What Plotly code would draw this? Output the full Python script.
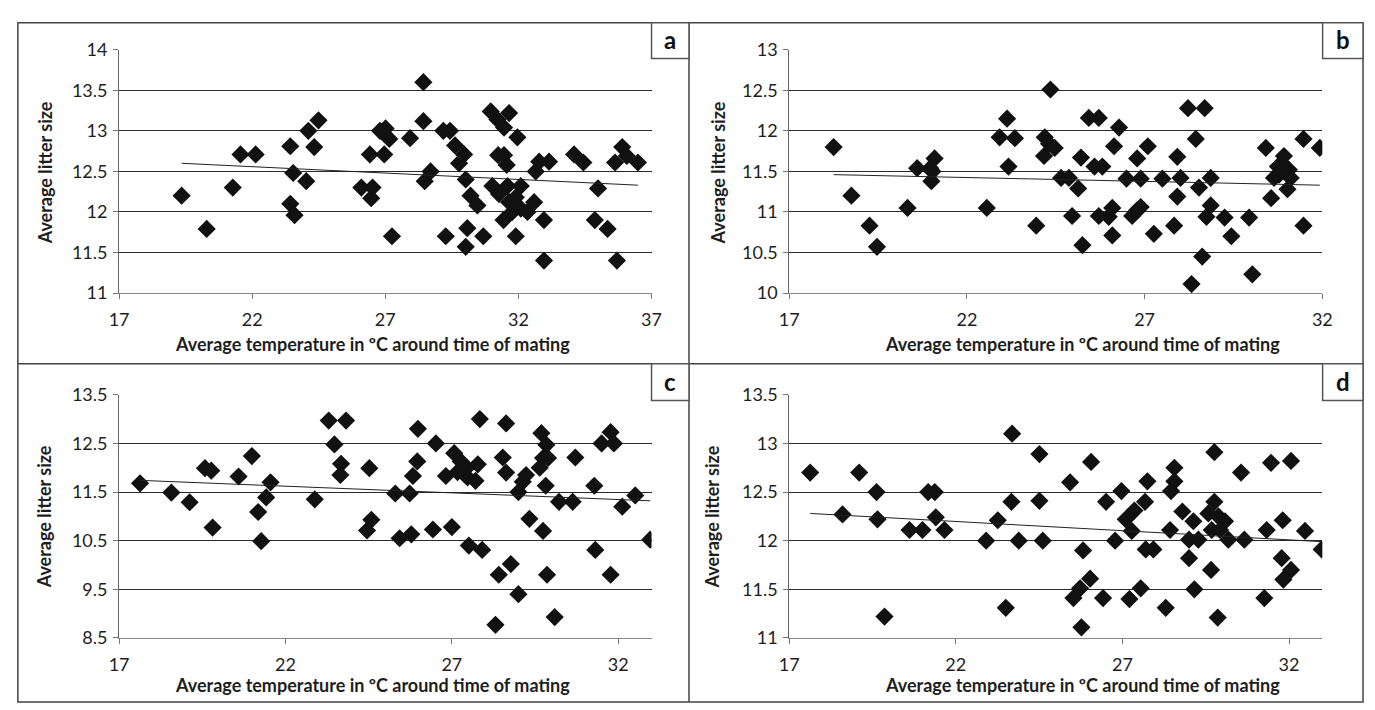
import plotly.graph_objects as go

# ---------------- data ----------------
a_temp = [19.35, 20.29, 21.27, 21.56, 22.13, 23.43, 23.54, 23.43, 23.59, 24.03, 24.11, 24.33, 24.49, 26.10, 26.52,
          26.47, 26.42, 26.80, 27.01, 26.96, 27.15, 27.25, 27.93, 28.43, 28.43, 28.48, 28.70, 29.18, 29.43, 29.27,
          29.62, 29.77, 29.96, 30.02, 30.02, 30.08, 30.20, 30.46, 30.68, 30.96, 31.21, 31.65, 31.46, 31.96, 31.24,
          31.46, 31.56, 31.02, 31.27, 31.59, 32.09, 31.65, 31.90, 32.09, 32.34, 32.59, 31.77, 31.44, 31.90, 32.96,
          32.96, 32.65, 32.78, 33.15, 34.09, 34.44, 34.99, 34.87, 35.35, 35.70, 35.63, 35.90, 36.07, 36.49]
a_litter = [12.20, 11.79, 12.30, 12.71, 12.71, 12.81, 12.48, 12.10, 11.96, 12.38, 13.00, 12.80, 13.13, 12.30, 12.30,
            12.17, 12.71, 13.00, 13.03, 12.71, 12.90, 11.70, 12.91, 13.60, 13.12, 12.38, 12.50, 13.00, 13.00, 11.70,
            12.82, 12.60, 12.71, 12.40, 11.57, 11.80, 12.20, 12.08, 11.70, 13.24, 13.14, 13.22, 13.04, 12.92, 12.70,
            12.70, 12.58, 12.32, 12.22, 12.32, 12.32, 12.12, 12.18, 12.04, 12.00, 12.12, 12.00, 11.90, 11.70, 11.90,
            11.40, 12.50, 12.62, 12.62, 12.71, 12.61, 12.29, 11.90, 11.79, 11.40, 12.61, 12.80, 12.69, 12.61]
a_trend = [12.60, 12.33]

b_temp = [18.25, 18.75, 19.26, 19.47, 20.33, 20.60, 20.97, 21.09, 21.03, 21.00, 22.56, 22.92, 23.13, 23.35, 23.17,
          23.95, 24.35, 24.19, 24.31, 24.47, 24.17, 24.65, 24.87, 25.13, 25.21, 24.96, 25.25, 25.43, 25.71, 26.28,
          26.14, 25.59, 25.81, 25.71, 25.99, 26.09, 26.09, 26.49, 26.89, 26.79, 27.09, 26.65, 26.79, 26.89, 27.26,
          27.50, 27.92, 28.01, 27.92, 27.83, 28.22, 28.69, 28.44, 28.53, 28.86, 28.86, 28.74, 29.25, 29.44, 28.62,
          28.32, 29.94, 30.03, 30.41, 30.56, 30.75, 30.92, 30.78, 31.06, 30.64, 31.11, 31.02, 30.87, 31.47, 31.93, 31.47]
b_litter = [11.80, 11.20, 10.83, 10.57, 11.05, 11.54, 11.54, 11.66, 11.50, 11.38, 11.05, 11.92, 12.15, 11.91, 11.56,
            10.83, 12.51, 11.92, 11.84, 11.79, 11.69, 11.42, 11.42, 11.29, 11.67, 10.95, 10.59, 12.16, 12.16, 12.04,
            11.81, 11.56, 11.56, 10.95, 10.94, 11.05, 10.71, 11.41, 11.41, 11.66, 11.81, 10.95, 11.02, 11.06, 10.73,
            11.41, 11.68, 11.42, 11.19, 10.83, 12.28, 12.28, 11.90, 11.30, 11.42, 11.08, 10.94, 10.93, 10.70, 10.45,
            10.11, 10.93, 10.23, 11.79, 11.17, 11.56, 11.69, 11.46, 11.52, 11.42, 11.42, 11.28, 11.60, 11.90, 11.79, 10.83]
b_trend = [11.46, 11.33]

c_temp = [17.63, 18.57, 19.12, 19.58, 19.77, 19.81, 20.59, 20.99, 21.18, 21.42, 21.55, 21.27, 22.88, 23.30, 23.82,
          23.47, 23.67, 23.65, 24.52, 24.45, 24.58, 25.30, 25.43, 25.73, 25.78, 25.83, 25.98, 25.96, 26.43, 26.52,
          26.82, 27.00, 27.07, 27.27, 27.45, 27.17, 27.47, 27.78, 27.71, 27.84, 27.51, 27.91, 28.53, 28.63, 28.63,
          28.41, 28.31, 28.77, 29.00, 29.00, 29.13, 29.23, 29.33, 29.69, 29.84, 29.74, 29.89, 29.64, 29.82, 29.74,
          29.86, 30.09, 30.22, 30.63, 30.71, 31.28, 31.31, 31.50, 31.77, 31.87, 31.77, 32.12, 32.51, 32.96]
c_litter = [11.68, 11.49, 11.29, 11.99, 11.94, 10.77, 11.82, 12.24, 11.09, 11.39, 11.70, 10.49, 11.35, 12.97, 12.97,
            12.48, 12.08, 11.85, 11.99, 10.71, 10.93, 11.47, 10.55, 11.47, 10.63, 11.83, 12.80, 12.13, 10.73, 12.50,
            11.83, 10.78, 12.30, 12.13, 12.00, 11.91, 11.80, 12.07, 11.73, 13.00, 10.40, 10.31, 12.21, 11.90, 12.91,
            9.80, 8.77, 10.02, 9.40, 11.50, 11.71, 11.85, 10.95, 12.71, 12.47, 12.20, 12.20, 12.00, 11.63, 10.70,
            9.80, 8.93, 11.30, 11.30, 12.21, 11.63, 10.31, 12.50, 12.73, 12.50, 9.80, 11.20, 11.43, 10.52]
c_trend = [11.74, 11.32]

d_temp = [17.63, 18.60, 19.10, 19.62, 19.65, 19.86, 20.61, 21.00, 21.17, 21.37, 21.40, 21.66, 22.91, 23.26, 23.50,
          23.67, 23.69, 23.89, 24.51, 24.51, 24.61, 25.43, 25.53, 25.73, 25.82, 25.77, 26.03, 26.06, 26.42, 26.51,
          26.78, 26.97, 27.10, 27.36, 27.28, 27.21, 27.55, 27.68, 27.75, 27.70, 27.93, 28.30, 28.43, 28.46, 28.56,
          28.56, 28.80, 29.13, 29.00, 29.00, 29.28, 29.16, 29.66, 29.76, 29.86, 29.76, 29.58, 29.68, 29.88, 30.08,
          29.93, 30.18, 30.66, 30.56, 31.33, 31.46, 31.26, 31.81, 31.78, 32.06, 31.83, 32.06, 32.48, 32.98]
d_litter = [12.70, 12.27, 12.70, 12.50, 12.22, 11.22, 12.11, 12.11, 12.50, 12.50, 12.24, 12.11, 12.00, 12.21, 11.31,
            12.40, 13.10, 12.00, 12.89, 12.41, 12.00, 12.60, 11.41, 11.51, 11.90, 11.11, 11.61, 12.81, 11.41, 12.40,
            12.00, 12.51, 12.22, 12.31, 12.10, 11.40, 11.51, 12.40, 12.61, 11.91, 11.91, 11.31, 12.11, 12.51, 12.61,
            12.75, 12.30, 12.20, 12.01, 11.82, 12.01, 11.50, 11.70, 12.91, 11.21, 12.40, 12.28, 12.11, 12.25, 12.20,
            12.11, 12.01, 12.01, 12.70, 12.11, 12.80, 11.41, 12.21, 11.82, 11.70, 11.60, 12.82, 12.10, 11.91]
d_trend = [12.28, 11.99]

panel_labels = ["a", "b", "c", "d"]
x_ranges = [[17, 37], [17, 32], [17, 33], [17, 33]]
y_ranges = [[11, 14], [10, 13], [8.5, 13.5], [11, 13.5]]
y_dticks = [0.5, 0.5, 1, 0.5]
x_title = "Average temperature in ºC around time of mating"
y_title = "Average litter size"

# ---------------- layout geometry (pixels) ----------------
W, H = 1375, 710
FONT = "Lato"
TXT = "#1e1e1e"


def fx(p):
    return p / W


def fy(p):
    return 1 - p / H


# plot area boxes: (left, right, top, bottom)
plot_boxes = [(110.7, 651, 39, 290), (790.7, 1331.7, 39, 290),
              (110.7, 651, 395, 646), (790.7, 1331.7, 395, 646)]
label_boxes = [(651, 689, 11, 48), (1332, 1373, 11, 48),
               (651, 689, 363, 401), (1332, 1373, 363, 401)]
ytitle_pos = [(35, 166), (718, 166), (34, 521), (712, 521)]
xtitle_pos = [(368, 343), (1088, 343), (368, 695), (1088, 695)]

series = [(a_temp, a_litter, a_trend), (b_temp, b_litter, b_trend),
          (c_temp, c_litter, c_trend), (d_temp, d_litter, d_trend)]

fig = go.Figure()
layout = dict(width=W, height=H, autosize=False, margin=dict(l=0, r=0, t=0, b=0),
              paper_bgcolor="white", plot_bgcolor="white", showlegend=False,
              font=dict(family=FONT, color=TXT))
annotations = []
shapes = []

for i in range(4):
    xs, ys, tr = series[i]
    suf = "" if i == 0 else str(i + 1)
    xa, ya = "x" + suf, "y" + suf
    fig.add_trace(go.Scatter(x=xs, y=ys, mode="markers", xaxis=xa, yaxis=ya,
                             marker=dict(symbol="diamond", size=14, color="#111111",
                                         line=dict(width=0)),
                             hoverinfo="x+y"))
    fig.add_trace(go.Scatter(x=[min(xs), max(xs)], y=tr, mode="lines", xaxis=xa, yaxis=ya,
                             line=dict(color="#222222", width=1), hoverinfo="skip"))
    l, r, t, b = plot_boxes[i]
    layout["xaxis" + suf] = dict(domain=[fx(l), fx(r)], range=x_ranges[i], anchor=ya,
                                 tickmode="linear", tick0=17, dtick=5,
                                 ticks="outside", ticklen=5, tickcolor="#777", tickwidth=1,
                                 showline=True, linecolor="#888", linewidth=1,
                                 showgrid=False, zeroline=False, ticklabelstandoff=5,
                                 tickfont=dict(family=FONT, size=18, color=TXT))
    layout["yaxis" + suf] = dict(domain=[fy(b), fy(t)], range=y_ranges[i], anchor=xa,
                                 tickmode="linear", tick0=y_ranges[i][0], dtick=y_dticks[i],
                                 ticks="outside", ticklen=5, tickcolor="#777", tickwidth=1,
                                 showline=True, linecolor="#666", linewidth=1,
                                 showgrid=True, gridcolor="#2a2a2a", gridwidth=1,
                                 zeroline=False, ticklabelstandoff=2,
                                 tickfont=dict(family=FONT, size=18, color=TXT))
    # axis titles
    tx, ty = ytitle_pos[i]
    annotations.append(dict(text="<b>" + y_title + "</b>", x=fx(tx), y=fy(ty), xref="paper", yref="paper",
                            showarrow=False, textangle=-90, xanchor="center", yanchor="middle",
                            font=dict(family=FONT, size=18, color=TXT)))
    tx, ty = xtitle_pos[i]
    annotations.append(dict(text="<b>" + x_title + "</b>", x=fx(tx), y=fy(ty), xref="paper", yref="paper",
                            showarrow=False, xanchor="center", yanchor="middle",
                            font=dict(family=FONT, size=18, color=TXT)))
    # label box
    bl, br, bt, bb = label_boxes[i]
    shapes.append(dict(type="rect", xref="paper", yref="paper", x0=fx(bl), x1=fx(br), y0=fy(bb), y1=fy(bt),
                       line=dict(color="#555", width=1.5), fillcolor="white", layer="above"))
    annotations.append(dict(text="<b>" + panel_labels[i] + "</b>", x=fx((bl + br) / 2), y=fy((bt + bb) / 2 - 1),
                            xref="paper", yref="paper", showarrow=False, xanchor="center", yanchor="middle",
                            font=dict(family=FONT, size=24, color="#111")))

# outer frame and dividers
frame = dict(color="#444", width=1.5)
shapes.append(dict(type="rect", xref="paper", yref="paper", x0=fx(8), x1=fx(1373), y0=fy(712), y1=fy(11),
                   line=frame, layer="below"))
shapes.append(dict(type="line", xref="paper", yref="paper", x0=fx(689), x1=fx(689), y0=fy(712), y1=fy(11),
                   line=frame, layer="below"))
shapes.append(dict(type="line", xref="paper", yref="paper", x0=fx(8), x1=fx(1373), y0=fy(363), y1=fy(363),
                   line=frame, layer="below"))

layout["annotations"] = annotations
layout["shapes"] = shapes
fig.update_layout(**layout)
fig.write_html("out.html", config={"displayModeBar": False},
               post_script="document.body.style.margin='0px';document.body.style.overflow='hidden';")
